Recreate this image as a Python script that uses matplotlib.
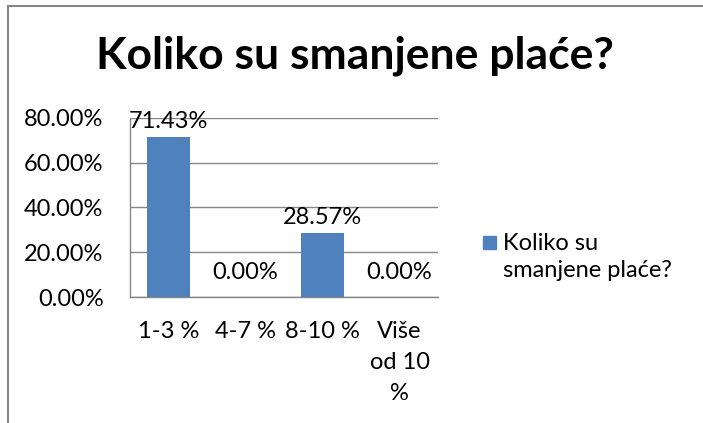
import matplotlib
matplotlib.use("Agg")
import matplotlib.pyplot as plt
from matplotlib.patches import Rectangle
from matplotlib.lines import Line2D

categories = ["1-3 %", "4-7 %", "8-10 %", "Više\nod 10\n%"]
values = [71.43, 0.00, 28.57, 0.00]
yticks = [0, 20, 40, 60, 80]
title = "Koliko su smanjene plaće?"
legend_label = "Koliko su\nsmanjene plaće?"

plt.rcParams['font.family'] = ['Lato', 'DejaVu Sans']
W, H = 703, 423
fig = plt.figure(figsize=(W/100, H/100), dpi=100)
fig.patch.set_facecolor('white')

# chart border (top and left visible)
fig.add_artist(Line2D([8/W, 8/W], [0, 1 - 6/H], color='#868686', lw=1.5, transform=fig.transFigure))
fig.add_artist(Line2D([8/W, 1], [1 - 6/H, 1 - 6/H], color='#868686', lw=1.5, transform=fig.transFigure))

FS = 17
left, right, top, bottom = 130, 438, 118, 297
ax = fig.add_axes([left/W, 1 - bottom/H, (right-left)/W, (bottom-top)/H])
color = '#4F81BD'
x = list(range(len(categories)))
ax.bar(x, values, width=0.56, color=color, zorder=3)
ax.set_xlim(-0.5, len(categories) - 0.5)
ax.set_ylim(0, 80)
ax.set_yticks(yticks)
ax.set_yticklabels([f"{v:.2f}%" for v in yticks], fontsize=FS)
ax.set_xticks(x)
ax.set_xticklabels(categories, fontsize=FS, linespacing=1.6, va='top')
ax.tick_params(axis='x', length=0, pad=17)
ax.tick_params(axis='y', length=0, pad=19)
ax.grid(axis='y', color='#868686', lw=1, zorder=0)
for s in ['top', 'right']:
    ax.spines[s].set_visible(False)
for s in ['left', 'bottom']:
    ax.spines[s].set_color('#868686')
    ax.spines[s].set_linewidth(1)

for xi, v in zip(x, values):
    off = 10 if v == 0 else 4
    ax.annotate(f"{v:.2f}%", (xi, v), xytext=(0, off), textcoords='offset points',
                ha='center', va='bottom', fontsize=FS, zorder=4)

fig.text(355/W, 1 - 56/H, title, fontsize=32, fontweight='bold', ha='center', va='center')

# legend
fig.patches.append(Rectangle((483/W, 1 - 249/H), 13/W, 13/H, color=color, transform=fig.transFigure))
fig.text(503/W, 1 - 257/H, legend_label, fontsize=FS, ha='left', va='center', linespacing=1.3)

fig.savefig("out.png", dpi=100, facecolor='white')
